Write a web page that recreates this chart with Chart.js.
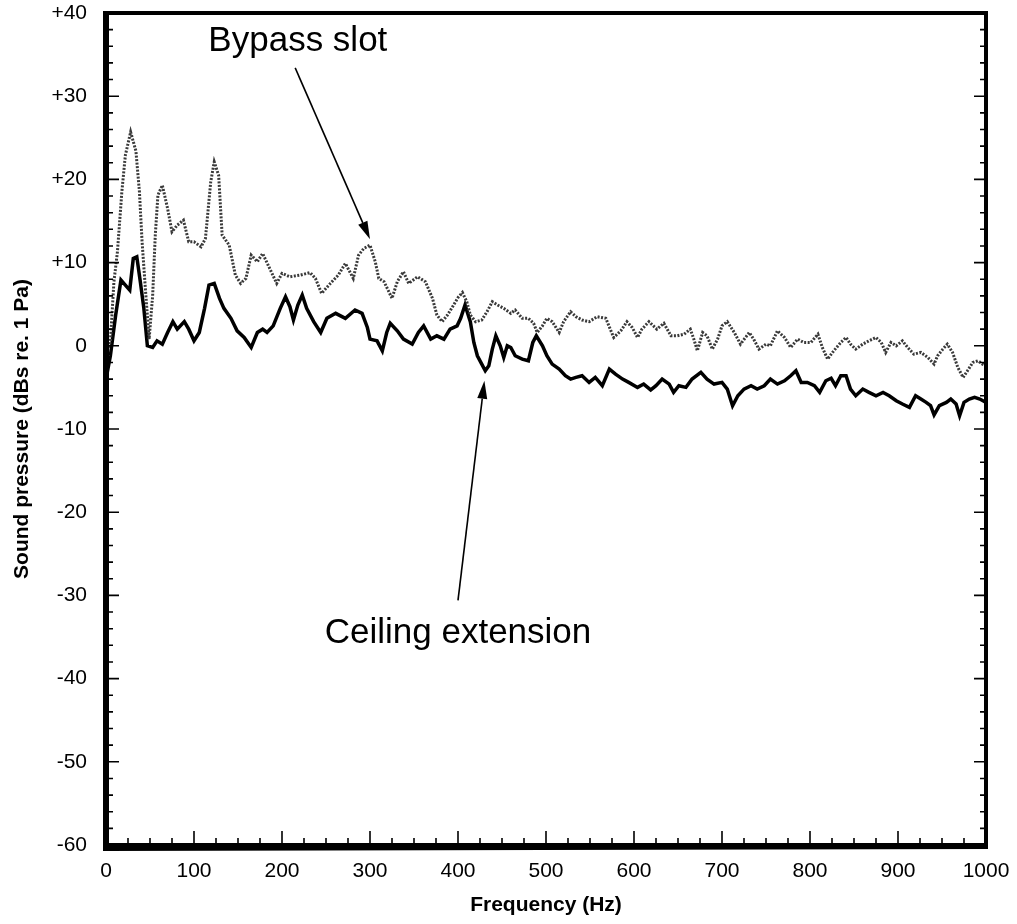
<!DOCTYPE html>
<html>
<head>
<meta charset="utf-8">
<title>Sound pressure spectrum</title>
<script src="https://cdn.jsdelivr.net/npm/chart.js@4.4.1/dist/chart.umd.min.js"></script>
<style>
  html, body { margin: 0; padding: 0; background: #fff; }
  #wrap { width: 1017px; height: 924px; }
</style>
</head>
<body>
<div id="wrap"><canvas id="spectrum" width="1017" height="924"></canvas></div>
<script>
// ================= DATA =================
const bypassFreq = [
    0, 5, 9, 13, 18, 22, 28, 34, 38, 41,
    45, 49, 53, 56, 59, 64, 70, 75, 81, 88,
    94, 100, 108, 113, 119, 123, 128, 132, 140, 147,
    153, 159, 165, 172, 178, 186, 194, 200, 209, 221,
    232, 238, 245, 255, 264, 272, 278, 281, 287, 293,
    300, 306, 310, 316, 325, 331, 338, 344, 354, 363,
    371, 376, 382, 388, 395, 400, 405, 410, 414, 420,
    427, 433, 439, 445, 452, 460, 465, 473, 480, 486,
    490, 496, 501, 507, 515, 520, 528, 534, 541, 549,
    558, 568, 573, 577, 585, 592, 598, 604, 609, 617,
    626, 634, 642, 649, 657, 664, 668, 672, 678, 683,
    689, 695, 700, 706, 714, 721, 731, 736, 742, 750,
    755, 763, 771, 778, 786, 793, 801, 809, 814, 820,
    827, 835, 841, 846, 852, 860, 867, 875, 881, 886,
    892, 898, 905, 911, 918, 926, 934, 941, 945, 951,
    956, 962, 968, 974, 979, 985, 991, 996, 1000
];
const bypassDb = [
    -1, 0.5, 7.7, 11.3, 18.5, 22.9, 25.7, 23.4, 18.5, 12.5,
    6.5, 0.8, 6, 13.3, 18.1, 19.3, 16.5, 13.7, 14.5, 15.1,
    12.5, 12.5, 11.9, 12.9, 19.7, 22.1, 20.5, 13.3, 12.1, 8.5,
    7.5, 8.1, 10.9, 10.1, 11.1, 9.3, 7.5, 8.7, 8.3, 8.5,
    8.8, 8.1, 6.3, 7.5, 8.5, 9.9, 8.7, 8.1, 10.9, 11.7,
    12.1, 10.1, 8.1, 7.7, 5.7, 7.7, 8.9, 7.5, 8.3, 7.7,
    5.7, 3.7, 2.9, 3.7, 4.9, 5.8, 6.4, 5.3, 3.7, 2.9,
    3.1, 4.1, 5.3, 4.9, 4.5, 3.9, 4.3, 3.3, 3.3, 2.7,
    1.6, 2.4, 3.3, 2.9, 1.6, 2.9, 4.1, 3.5, 3.1, 2.9,
    3.5, 3.3, 2, 1, 1.8, 2.9, 2.2, 1, 2, 2.9,
    2, 2.7, 1.2, 1.2, 1.4, 2, 0.8, -0.6, 1.6, 1.2,
    -0.4, 0.8, 2.4, 2.9, 1.6, 0.2, 1.6, 0.8, -0.4, 0.2,
    0, 1.8, 1, -0.2, 0.8, 0.4, 0.4, 1.4, -0.2, -1.6,
    -0.6, 0.4, 1, 0.2, -0.4, 0.2, 0.6, 1, 0.4, -0.8,
    0.4, 0, 0.6, -0.2, -1, -0.8, -1.4, -2.2, -1.2, -0.4,
    0.2, -0.8, -2.6, -3.8, -3, -2, -1.8, -2.2, -2.4
];

const ceilingFreq = [
    0, 5, 11, 17, 22, 27, 31, 35, 39, 43,
    47, 53, 58, 64, 70, 76, 81, 89, 94, 100,
    106, 112, 117, 123, 129, 134, 142, 149, 157, 165,
    172, 178, 183, 190, 198, 204, 209, 213, 218, 223,
    228, 236, 244, 251, 261, 272, 283, 291, 297, 300,
    308, 314, 319, 323, 331, 338, 348, 355, 361, 369,
    376, 384, 391, 399, 403, 408, 414, 418, 422, 427,
    431, 435, 439, 443, 448, 452, 456, 460, 465, 473,
    480, 485, 489, 496, 501, 507, 515, 522, 528, 534,
    541, 549, 556, 564, 572, 579, 587, 594, 604, 611,
    619, 625, 632, 640, 645, 651, 659, 666, 676, 683,
    691, 700, 706, 712, 718, 725, 733, 740, 748, 755,
    763, 771, 778, 784, 790, 797, 805, 811, 818, 824,
    829, 835, 841, 846, 852, 860, 867, 875, 883, 890,
    898, 905, 913, 920, 926, 932, 937, 941, 947, 955,
    960, 966, 970, 975, 981, 987, 993, 1000
];
const ceilingDb = [
    -4, -1.2, 3.7, 7.9, 7.3, 6.7, 10.5, 10.7, 7.7, 4.5,
    0, -0.2, 0.6, 0.2, 1.6, 2.9, 2, 2.9, 2, 0.6,
    1.6, 4.5, 7.3, 7.5, 5.7, 4.5, 3.3, 1.8, 1, -0.2,
    1.6, 2, 1.6, 2.4, 4.5, 5.9, 4.7, 3.1, 4.9, 6.1,
    4.5, 2.9, 1.6, 3.3, 3.9, 3.3, 4.3, 3.9, 2.2, 0.8,
    0.6, -0.6, 1.6, 2.7, 1.8, 0.8, 0.2, 1.6, 2.4, 0.8,
    1.2, 0.8, 2, 2.4, 3.3, 4.9, 2.9, 0.4, -1.2, -2.2,
    -3, -2.4, -0.4, 1.2, 0, -1.4, 0, -0.2, -1.2, -1.6,
    -1.8, 0.4, 1.2, 0, -1.2, -2.2, -2.8, -3.6, -4, -3.8,
    -3.6, -4.4, -3.8, -4.8, -2.8, -3.4, -4, -4.4, -5, -4.6,
    -5.3, -4.8, -4, -4.6, -5.6, -4.8, -5, -4, -3.2, -4,
    -4.6, -4.4, -5.2, -7.2, -6, -5.2, -4.8, -5.2, -4.8, -4,
    -4.6, -4.2, -3.6, -3, -4.4, -4.4, -4.8, -5.6, -4.2, -3.9,
    -4.8, -3.6, -3.6, -5.2, -6, -5.2, -5.6, -6, -5.6, -6,
    -6.6, -7, -7.4, -6, -6.4, -6.8, -7.2, -8.3, -7.2, -6.8,
    -6.4, -7, -8.4, -6.8, -6.4, -6.2, -6.4, -6.8
];

// tick labels
const xTicks = [0, 100, 200, 300, 400, 500, 600, 700, 800, 900, 1000];
const yTicks = [40, 30, 20, 10, 0, -10, -20, -30, -40, -50, -60];

// callouts: text, where the text sits, and where the arrow points (data units)
const callouts = [
    { text: "Bypass slot", tx: 218, ty: 36.6, from: [215, 33.4], to: [300, 12.8] },
    { text: "Ceiling extension", tx: 400, ty: -34.6, from: [400, -30.6], to: [430, -4.2] }
];

function toPoints(xs, ys) {
    return xs.map((x, i) => ({ x: x, y: ys[i] }));
}

// ================= FRAME, INWARD TICKS, CALLOUTS =================
const framePlugin = {
    id: "frame",
    afterDraw(chart) {
        const ctx = chart.ctx;
        const a = chart.chartArea;
        const xs = chart.scales.x;
        const ys = chart.scales.y;

        ctx.save();
        ctx.strokeStyle = "#000";
        ctx.lineCap = "butt";

        // minor + major ticks, pointing into the plot
        ctx.lineWidth = 1.6;
        ctx.beginPath();
        for (let v = -60; v <= 40; v += 2) {
            const py = ys.getPixelForValue(v);
            const len = (v % 10 === 0) ? 13 : 7;
            ctx.moveTo(a.left, py);
            ctx.lineTo(a.left + len, py);
            ctx.moveTo(a.right, py);
            ctx.lineTo(a.right - len + 1, py);
        }
        for (let f = 0; f <= 1000; f += 25) {
            const px = xs.getPixelForValue(f);
            const len = (f % 100 === 0) ? 14 : 7;
            ctx.moveTo(px, a.bottom);
            ctx.lineTo(px, a.bottom - len);
        }
        ctx.stroke();

        // heavy frame
        ctx.lineWidth = 4;
        ctx.strokeRect(a.left, a.top, a.right - a.left, a.bottom - a.top);
        ctx.lineWidth = 6;
        ctx.beginPath();
        ctx.moveTo(a.left, a.top - 2);
        ctx.lineTo(a.left, a.bottom + 3);
        ctx.lineTo(a.right + 2, a.bottom + 1);
        ctx.stroke();
        ctx.restore();
    },
    afterDatasetsDraw(chart) {
        const ctx = chart.ctx;
        const xs = chart.scales.x;
        const ys = chart.scales.y;

        ctx.save();
        ctx.fillStyle = "#000";
        ctx.strokeStyle = "#000";
        ctx.font = "35px 'Liberation Sans', Arial, sans-serif";
        ctx.textAlign = "center";
        ctx.textBaseline = "middle";

        callouts.forEach(c => {
            ctx.fillText(c.text, xs.getPixelForValue(c.tx), ys.getPixelForValue(c.ty));

            const x1 = xs.getPixelForValue(c.from[0]);
            const y1 = ys.getPixelForValue(c.from[1]);
            const x2 = xs.getPixelForValue(c.to[0]);
            const y2 = ys.getPixelForValue(c.to[1]);
            const ang = Math.atan2(y2 - y1, x2 - x1);
            const headLen = 18, headHalf = 5;

            ctx.lineWidth = 1.6;
            ctx.beginPath();
            ctx.moveTo(x1, y1);
            ctx.lineTo(x2 - Math.cos(ang) * headLen, y2 - Math.sin(ang) * headLen);
            ctx.stroke();

            ctx.beginPath();
            ctx.moveTo(x2, y2);
            ctx.lineTo(x2 - Math.cos(ang) * headLen - Math.sin(ang) * headHalf,
                       y2 - Math.sin(ang) * headLen + Math.cos(ang) * headHalf);
            ctx.lineTo(x2 - Math.cos(ang) * headLen + Math.sin(ang) * headHalf,
                       y2 - Math.sin(ang) * headLen - Math.cos(ang) * headHalf);
            ctx.closePath();
            ctx.fill();
        });
        ctx.restore();
    }
};

// ================= CHART =================
const ctx = document.getElementById("spectrum").getContext("2d");
window.spectrumChart = new Chart(ctx, {
    type: "line",
    data: {
        datasets: [
            {
                label: "Bypass slot",
                data: toPoints(bypassFreq, bypassDb),
                borderColor: "#3a3a3a",
                borderWidth: 3,
                borderDash: [2, 1.5],
                pointRadius: 0,
                tension: 0,
                fill: false
            },
            {
                label: "Ceiling extension",
                data: toPoints(ceilingFreq, ceilingDb),
                borderColor: "#000",
                borderWidth: 3.5,
                pointRadius: 0,
                tension: 0,
                fill: false
            }
        ]
    },
    options: {
        responsive: false,
        animation: false,
        layout: { padding: { top: 13, right: 31, left: 0, bottom: 0 } },
        plugins: {
            legend: { display: false },
            tooltip: { enabled: false }
        },
        scales: {
            x: {
                type: "linear",
                min: 0,
                max: 1000,
                afterBuildTicks: axis => { axis.ticks = xTicks.map(v => ({ value: v })); },
                // fixed height; no extra room for label overflow
                afterFit: axis => {
                    axis.height = 79;
                    axis.paddingLeft = 0;
                    axis.paddingRight = 0;
                },
                grid: { display: false, drawTicks: false },
                border: { display: false },
                ticks: {
                    color: "#000",
                    padding: 14,
                    maxRotation: 0,
                    font: { family: "'Liberation Sans', Arial, sans-serif", size: 21 },
                    callback: value => String(value)
                },
                title: {
                    display: true,
                    text: "Frequency (Hz)",
                    color: "#000",
                    padding: { top: 0, bottom: 6 },
                    font: { family: "'Liberation Sans', Arial, sans-serif", size: 21, weight: "bold" }
                }
            },
            y: {
                type: "linear",
                min: -60,
                max: 40,
                afterBuildTicks: axis => { axis.ticks = yTicks.map(v => ({ value: v })); },
                afterFit: axis => {
                    axis.width = 106;
                    axis.paddingTop = 0;
                    axis.paddingBottom = 0;
                },
                grid: { display: false, drawTicks: false },
                border: { display: false },
                ticks: {
                    color: "#000",
                    padding: 19,
                    font: { family: "'Liberation Sans', Arial, sans-serif", size: 21 },
                    callback: function(value) {
                        return value > 0 ? "+" + value : String(value);
                    }
                },
                title: {
                    display: true,
                    text: "Sound pressure (dBs re. 1 Pa)",
                    color: "#000",
                    padding: { top: 10, bottom: 0 },
                    font: { family: "'Liberation Sans', Arial, sans-serif", size: 21, weight: "bold" }
                }
            }
        }
    },
    plugins: [framePlugin]
});
</script>
</body>
</html>
